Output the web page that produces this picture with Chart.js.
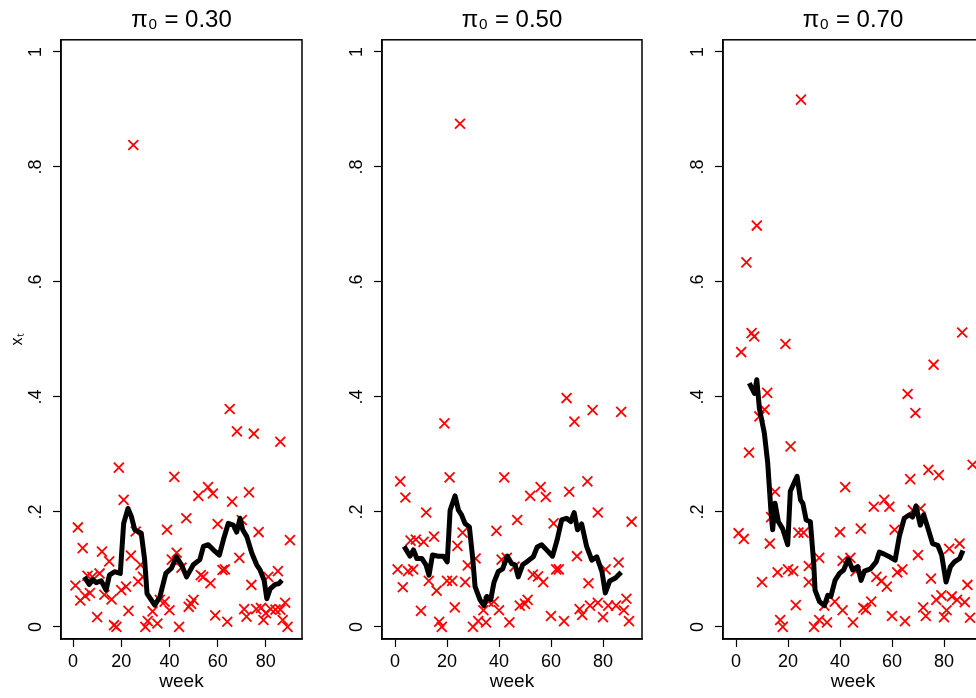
<!DOCTYPE html>
<html>
<head>
<meta charset="UTF-8">
<title>x_t by week</title>
<script src="https://cdn.jsdelivr.net/npm/chart.js"></script>
<style>
  html, body { margin: 0; padding: 0; background: #fff; overflow: hidden; }
  body { width: 976px; height: 698px; position: relative; }
  canvas { position: absolute; top: 0; }
</style>
</head>
<body>
<canvas id="c1" width="322" height="698" style="left:0px"></canvas>
<canvas id="c2" width="340" height="698" style="left:322px"></canvas>
<canvas id="c3" width="341" height="698" style="left:662px"></canvas>
<script>
// axes
const xTicks = [0, 20, 40, 60, 80];
const yTicks = [0, 0.2, 0.4, 0.6, 0.8, 1];
const yTickLabels = ['0', '.2', '.4', '.6', '.8', '1'];
const titles = ['\u03C0\u2080 = 0.30', '\u03C0\u2080 = 0.50', '\u03C0\u2080 = 0.70'];

// pi0 = 0.30
const weeks1 = [1,2,3,4,5,6,7,8,10,11,12,13,15,16,17,18,19,20,21,22,23,24,25,26,27,28,29,30,31,33,35,36,38,39,40,41,42,43,44,45,47,48,49,50,52,53,54,56,57,58,59,60,62,63,64,65,66,68,69,70,71,72,73,74,75,76,77,78,79,80,81,82,84,85,86,86,87,88,89,90];
const xt1 = [.072,.173,.046,.137,.054,.089,.059,.087,.017,.093,.131,.056,.114,.048,.003,0,.277,.064,.221,.070,.028,.124,.838,.166,.079,.108,.087,0,.010,.027,.006,.047,.044,.169,.029,.117,.261,.129,0,.103,.189,.035,.040,.047,.228,.090,.087,.243,.076,.232,.020,.179,.099,.100,.009,.379,.218,.340,.120,.186,.031,.018,.234,.073,.336,.031,.165,.033,.012,.024,.087,.031,.030,.097,.322,.030,.012,.042,0,.151];
const lineWeeks1 = [4.7,6.7,8.2,9.6,11.7,13.7,15.1,17.2,19.6,21,22.8,24.2,25.6,28.3,29.7,30.7,33.9,36,38.5,40.8,42.9,45,47.1,49.9,52.6,54.1,56.1,58.2,60.7,62.4,64.4,66.5,67.9,69.3,70.4,72.1,74.2,76.2,77.6,79.3,80.4,81.8,83.9,85.3,86.7];
const lineVals1 = [.087,.074,.082,.077,.080,.064,.090,.096,.093,.180,.206,.192,.169,.163,.117,.058,.038,.052,.093,.102,.122,.108,.087,.108,.117,.140,.143,.134,.125,.152,.180,.177,.165,.189,.169,.157,.128,.108,.099,.081,.049,.066,.074,.075,.081];

// pi0 = 0.50
const weeks2 = [1,2,3,4,5,6,7,8,10,11,12,13,15,16,17,18,19,20,21,22,23,24,25,26,27,28,30,31,32,34,35,36,38,39,40,41,42,43,44,46,47,48,50,51,52,53,55,56,57,58,60,61,62,63,65,66,67,69,70,71,72,74,74.4,75,76,78,78,80,81,82,85,86,87,88,89,90,91];
const xt2 = [.100,.253,.069,.225,.097,.150,.100,.152,.028,.148,.199,.080,.157,.063,.009,0,.354,.080,.260,.080,.034,.141,.875,.164,.078,.107,0,.119,.010,.029,.008,.044,.044,.167,.029,.117,.260,.120,.008,.105,.186,.037,.040,.047,.228,.091,.088,.243,.078,.226,.019,.180,.100,.100,.010,.398,.235,.357,.123,.031,.021,.253,.076,.037,.377,.199,.042,.017,.100,.037,.037,.112,.374,.029,.049,.010,.183];
const lineWeeks2 = [3.5,5.8,7.1,8.4,10.3,11.9,13.1,14.4,16.7,18.6,20.1,21.2,23.1,24.4,25.6,26.9,28.6,29.9,30.8,32.7,34.2,35.3,36.8,38.1,39.7,41.4,43.2,44.9,46.2,47.4,49.1,50.6,53.2,54.7,56.4,58.3,60.6,62.4,64.1,66,67.6,68.9,70.2,71.8,73.7,75.7,77.6,79.6,80.9,82.6,84.8,87];
const lineVals2 = [.140,.123,.134,.119,.119,.108,.090,.125,.123,.123,.113,.203,.228,.203,.195,.180,.174,.119,.070,.047,.037,.053,.047,.078,.096,.101,.123,.110,.108,.087,.108,.113,.122,.139,.143,.134,.123,.152,.186,.189,.183,.199,.169,.179,.140,.116,.122,.096,.059,.080,.085,.095];

// pi0 = 0.70
const weeks3 = [1,2,3,4,5,6,7,8,9,10,11,12,13,13.5,15,16,17,18,19,20,21,22,23,24,25,26,28,28,30,32,32,34,35,38,40,41,41,42,44,45,46,48,49,50,52,53,54,56,57,58,59,60,61,62,64,65,66,67,68,69,70,71,72,73,74,75,76,77,78,79,80,81,82,83,85,86,87,88,89,90,91];
const xt3 = [.163,.478,.153,.634,.303,.511,.505,.698,.366,.078,.378,.407,.145,.191,.235,.095,.012,0,.492,.100,.314,.097,.038,.164,.917,.164,.106,.078,0,.120,.012,.037,.008,.044,.165,.029,.115,.243,.120,.008,.097,.171,.033,.030,.044,.209,.087,.080,.221,.070,.209,.019,.169,.095,.100,.010,.405,.257,.203,.372,.125,.206,.034,.019,.273,.084,.456,.047,.264,.055,.017,.029,.136,.053,.047,.145,.512,.043,.073,.016,.282];
const lineWeeks3 = [5.1,7.1,8,9,10.9,12.2,13.5,14.1,15,16.3,17.9,19.9,20.9,23.5,24.8,25.7,27,28.6,29.9,30.4,32.1,34,35.3,36.5,38.1,39.8,41.4,43.2,44.9,46.8,48.1,49.4,51.7,53.9,55.1,56.8,59.4,61.2,62.8,64.7,66.7,67.9,69.2,70.9,72.2,74,75.6,77.6,79.1,80.8,82.5,84,86,87.3];
const lineVals3 = [.424,.406,.430,.380,.337,.285,.197,.169,.215,.183,.171,.143,.236,.262,.221,.215,.186,.183,.110,.064,.044,.037,.055,.053,.081,.093,.099,.118,.099,.105,.081,.097,.101,.113,.130,.127,.121,.116,.157,.189,.195,.191,.210,.177,.195,.169,.145,.142,.125,.078,.105,.113,.119,.133];

Chart.defaults.font.family = "'Liberation Sans', Arial, sans-serif";
Chart.defaults.color = '#000';

const boxPlugin = {
  id: 'box',
  afterDraw(chart) {
    const a = chart.chartArea;
    const ctx = chart.ctx;
    ctx.save();
    ctx.strokeStyle = '#000';
    ctx.lineWidth = 1.5;
    ctx.strokeRect(a.left, a.top, a.right - a.left, a.bottom - a.top);
    ctx.restore();
  }
};

function pts(xs, ys) {
  return xs.map((x, i) => ({ x: x, y: ys[i] }));
}

function makePanel(id, title, wk, xt, lw, lv, yWidth, showYTitle) {
  new Chart(document.getElementById(id), {
    type: 'scatter',
    data: {
      datasets: [
        {
          type: 'line', data: pts(lw, lv), borderColor: '#000', borderWidth: 5,
          pointRadius: 0, tension: 0, fill: false, borderJoinStyle: 'round'
        },
        {
          data: pts(wk, xt), pointStyle: 'crossRot', pointRadius: 7,
          borderColor: '#ff0000', backgroundColor: '#ff0000', pointBorderWidth: 1.8
        }
      ]
    },
    options: {
      responsive: false,
      animation: false,
      layout: { padding: { top: 0, left: 0, bottom: 0, right: 20 } },
      plugins: {
        legend: { display: false },
        tooltip: { enabled: false },
        title: {
          display: true, text: title, fullSize: false, color: '#000',
          font: { size: 24, weight: 'normal' }, padding: { top: 6, bottom: 5 }
        }
      },
      scales: {
        x: {
          type: 'linear', min: -5, max: 95,
          afterBuildTicks: s => { s.ticks = xTicks.map(v => ({ value: v })); },
          afterFit: s => { s.height = 59; },
          grid: { drawOnChartArea: false, tickLength: 8, color: '#000', tickWidth: 1.2 },
          border: { color: '#000', width: 1.5 },
          ticks: { font: { size: 18 }, padding: 4, maxRotation: 0, color: '#000' },
          title: { display: true, text: 'week', font: { size: 19 }, padding: { top: 0, bottom: 5 }, color: '#000' }
        },
        y: {
          type: 'linear', min: -0.021, max: 1.021,
          afterBuildTicks: s => { s.ticks = yTicks.map(v => ({ value: v })); },
          afterFit: s => { s.width = yWidth; },
          grid: { drawOnChartArea: false, tickLength: 8, color: '#000', tickWidth: 1.2 },
          border: { color: '#000', width: 1.5 },
          ticks: {
            font: { size: 18 }, padding: 9, minRotation: 90, maxRotation: 90,
            crossAlign: 'center', color: '#000',
            callback: v => yTickLabels[yTicks.indexOf(v)]
          },
          title: {
            display: showYTitle, text: 'x\u209C', font: { size: 16 },
            padding: { top: 8, bottom: 0 }, color: '#000'
          }
        }
      }
    },
    plugins: [boxPlugin]
  });
}

makePanel('c1', titles[0], weeks1, xt1, lineWeeks1, lineVals1, 61, true);
makePanel('c2', titles[1], weeks2, xt2, lineWeeks2, lineVals2, 60, false);
makePanel('c3', titles[2], weeks3, xt3, lineWeeks3, lineVals3, 61, false);
</script>
</body>
</html>
